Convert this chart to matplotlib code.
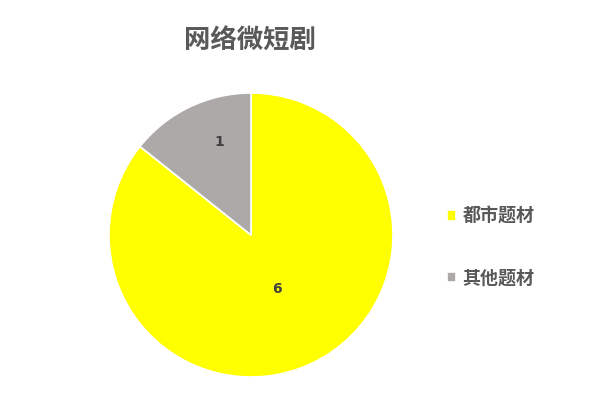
import matplotlib.pyplot as plt
import numpy as np

plt.rcParams['font.family'] = ['Noto Sans CJK SC', 'DejaVu Sans']

# ── DATA ──────────────────────────────────────────────────────────────────
title = '网络微短剧'
categories = ['都市题材', '其他题材']
counts = [6, 1]
colors = ['#FFFF00', '#ADA9A9']
# Excel "best fit" label placement: (radius fraction, angle fraction in wedge)
label_dist = [0.42, 0.69]
label_frac = [0.5, 0.37]

W, H = 600, 419
cx, cy, r = 251, 235, 142   # pie centre / radius in pixels

fig = plt.figure(figsize=(W / 100, H / 100), dpi=100, facecolor='w')
ax = fig.add_axes([(cx - r) / W, (H - cy - r) / H, 2 * r / W, 2 * r / H])

wedges, _ = ax.pie(counts, colors=colors, startangle=90, counterclock=False,
                   radius=1, wedgeprops=dict(edgecolor='white', linewidth=1.2))
ax.set_xlim(-1, 1)
ax.set_ylim(-1, 1)
ax.set_aspect('equal')
ax.axis('off')

# value labels
for w, v, d, f in zip(wedges, counts, label_dist, label_frac):
    ang = np.radians(w.theta1 + f * (w.theta2 - w.theta1))
    ax.text(d * np.cos(ang), d * np.sin(ang), str(v), ha='center', va='center',
            fontsize=10, fontweight='bold', color='#404040', family='DejaVu Sans')

fig.text(250 / W, 1 - 41 / H, title, ha='center', va='center',
         fontsize=19, fontweight='bold', color='#595959')

leg = fig.legend(wedges, categories, loc='center left',
                 bbox_to_anchor=(431 / W, 1 - 247 / H), frameon=False,
                 labelcolor='#595959', handlelength=0.5,
                 handleheight=0.5, handletextpad=0.35, labelspacing=2.35,
                 prop=dict(weight='bold', size=13))

fig.savefig('out.png', dpi=100, facecolor='w')
